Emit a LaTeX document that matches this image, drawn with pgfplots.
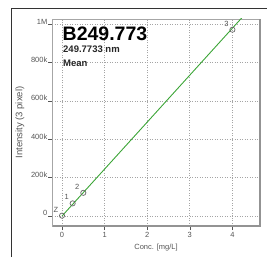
\documentclass[border=0pt]{standalone}
\usepackage{fontspec}
\setmainfont{Liberation Sans}
\usepackage{pgfplots}
\pgfplotsset{compat=1.18}
\definecolor{tickgray}{RGB}{85,85,85}
\definecolor{gridgray}{RGB}{165,165,165}
\definecolor{fitgreen}{RGB}{60,165,55}
\begin{document}
\begin{tikzpicture}
\path[use as bounding box] (0pt,0pt) rectangle (267pt,257pt);
\draw[line width=1pt, color=black!80] (11pt,0pt) -- (11pt,248pt) -- (267pt,248pt);
\begin{axis}[
  at={(52pt,31pt)}, anchor=south west,
  scale only axis, width=208pt, height=207pt,
  xmin=-0.235, xmax=4.647,
  ymin=-52000, ymax=1027700,
  scaled ticks=false,
  xtick={0,1,2,3,4},
  ytick={0,200000,400000,600000,800000,1000000},
  yticklabels={0,200k,400k,600k,800k,1M},
  xtick pos=bottom, ytick pos=left,
  tick align=outside, major tick length=4pt,
  tick style={color=tickgray, line width=0.6pt},
  axis line style={color=gray!70, line width=0.6pt},
  grid=major,
  major grid style={color=gridgray, dash pattern=on 1pt off 1.5pt, line width=0.8pt},
  /pgf/number format/assume math mode=true,
  tick label style={font=\fontsize{7.5}{8}\selectfont, color=tickgray},
  yticklabel style={anchor=south east, inner sep=0pt, xshift=-0.5pt},
  xticklabel style={anchor=north, inner sep=0pt, yshift=-2pt},
  xlabel={Conc. [mg/L]},
  ylabel={Intensity (3 pixel)},
  xlabel style={at={(axis description cs:0.5,0)}, anchor=center, yshift=-22pt, font=\fontsize{7.5}{9}\selectfont, color=tickgray},
  ylabel style={at={(axis description cs:0,0.5)}, anchor=center, yshift=32pt, font=\fontsize{9.5}{10}\selectfont, color=tickgray},
  clip=true,
]
\addplot[color=fitgreen, line width=0.9pt] coordinates {(0,0) (4.3,1053500)};
\addplot[only marks, mark=o, mark size=2.6pt, mark options={color=black!60, line width=0.7pt},
  nodes near coords, point meta=explicit symbolic,
  every node near coord/.style={anchor=center, xshift=-6pt, yshift=6pt, inner sep=0pt, font=\fontsize{7.5}{8}\selectfont, color=tickgray}]
  coordinates {(0,2000)[Z] (0.25,66000)[1] (0.5,121000)[2] (4,972000)[3]};
\end{axis}
\draw[color=gray!85, line width=1.4pt] (52.5pt,31pt) -- (260pt,31pt) -- (260pt,238pt);
\node[anchor=base west, inner sep=0pt, font=\fontsize{19.5}{20}\selectfont\bfseries] at (62.5pt,216.5pt) {B249.773};
\node[anchor=base west, inner sep=0pt, font=\fontsize{9.5}{11}\selectfont\bfseries, color=black!85] at (63pt,204pt) {249.7733 nm};
\node[anchor=base west, inner sep=0pt, font=\fontsize{9.5}{11}\selectfont\bfseries, color=black!85] at (63pt,190.5pt) {Mean};
\end{tikzpicture}
\end{document}
